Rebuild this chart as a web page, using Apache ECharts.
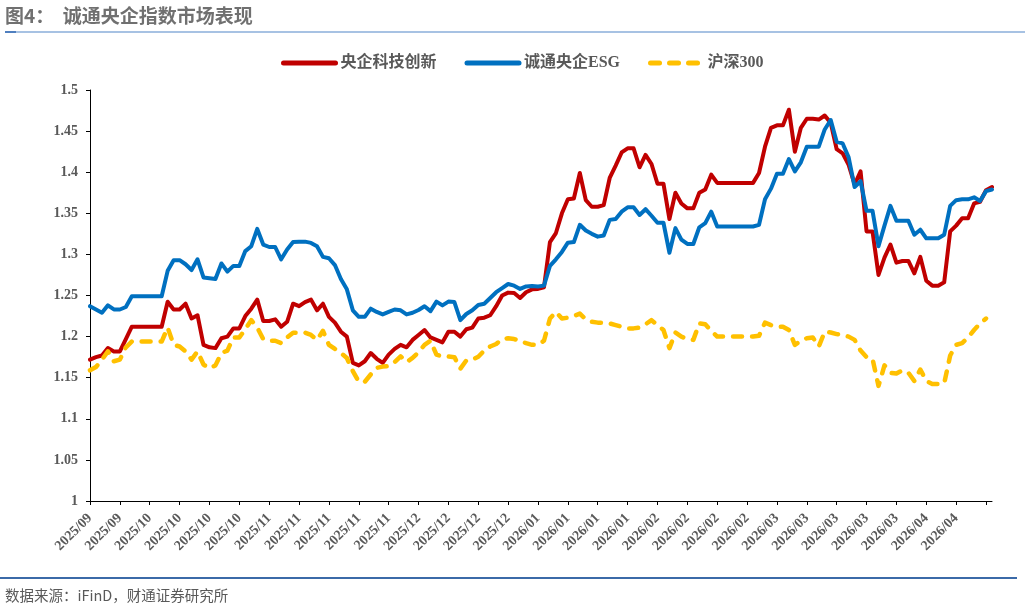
<!DOCTYPE html>
<html>
<head>
<meta charset="utf-8">
<script src="https://cdn.jsdelivr.net/npm/echarts@6/dist/echarts.min.js"></script>
<style>
  html, body { margin: 0; padding: 0; background: #fff; }
  #chart { width: 1032px; height: 609px; }
</style>
</head>
<body>
<div id="chart"></div>
<script>
// tick labels, one every 5 trading days
var tickLabels = [
    '2025/09', '2025/09', '2025/10', '2025/10', '2025/10', '2025/10',
    '2025/11', '2025/11', '2025/11', '2025/11', '2025/11',
    '2025/12', '2025/12', '2025/12', '2025/12',
    '2026/01', '2026/01', '2026/01', '2026/01',
    '2026/02', '2026/02', '2026/02', '2026/02',
    '2026/03', '2026/03', '2026/03', '2026/03', '2026/03',
    '2026/04', '2026/04'
];

// 央企科技创新
var techData = [
    1.172, 1.175, 1.177, 1.186, 1.182, 1.182, 1.197, 1.212, 1.212, 1.212,
    1.212, 1.212, 1.212, 1.2425, 1.233, 1.233, 1.240, 1.222, 1.226, 1.190,
    1.187, 1.186, 1.198, 1.200, 1.210, 1.210, 1.225, 1.234, 1.245, 1.219,
    1.219, 1.221, 1.212, 1.218, 1.240, 1.237, 1.242, 1.245, 1.232, 1.240,
    1.224, 1.217, 1.206, 1.200, 1.168, 1.165, 1.170, 1.180, 1.173, 1.168,
    1.178, 1.185, 1.190, 1.187, 1.196, 1.202, 1.208, 1.199, 1.196, 1.193,
    1.206, 1.206, 1.200, 1.209, 1.211, 1.222, 1.223, 1.226, 1.237, 1.250,
    1.2535, 1.253, 1.247, 1.254, 1.2575, 1.258, 1.260, 1.315, 1.326, 1.350,
    1.367, 1.368, 1.399, 1.366, 1.358, 1.358, 1.360, 1.393, 1.408, 1.424,
    1.429, 1.429, 1.406, 1.421, 1.410, 1.386, 1.386, 1.343, 1.375, 1.362,
    1.356, 1.356, 1.375, 1.379, 1.397, 1.387, 1.387, 1.387, 1.387, 1.387,
    1.387, 1.387, 1.399, 1.431, 1.454, 1.457, 1.457, 1.476, 1.425, 1.454,
    1.465, 1.465, 1.464, 1.469, 1.460, 1.428, 1.423, 1.409, 1.385, 1.401,
    1.328, 1.328, 1.275, 1.296, 1.312, 1.290, 1.292, 1.292, 1.277, 1.297,
    1.268, 1.262, 1.262, 1.266, 1.328, 1.335, 1.344, 1.344, 1.362, 1.364,
    1.378, 1.382
];

// 诚通央企ESG
var esgData = [
    1.237, 1.233, 1.229, 1.238, 1.233, 1.233, 1.236, 1.249, 1.249, 1.249,
    1.249, 1.249, 1.249, 1.280, 1.293, 1.293, 1.288, 1.281, 1.294, 1.272,
    1.271, 1.270, 1.289, 1.279, 1.286, 1.286, 1.304, 1.310, 1.331, 1.312,
    1.309, 1.309, 1.294, 1.306, 1.315, 1.3155, 1.3155, 1.314, 1.310, 1.297,
    1.2953, 1.287, 1.270, 1.2575, 1.232, 1.224, 1.224, 1.234, 1.230, 1.227,
    1.230, 1.233, 1.232, 1.227, 1.229, 1.2324, 1.237, 1.231, 1.2426, 1.238,
    1.2426, 1.242, 1.220, 1.2275, 1.232, 1.2385, 1.240, 1.247, 1.254, 1.259,
    1.264, 1.262, 1.258, 1.261, 1.2616, 1.261, 1.262, 1.286, 1.294, 1.303,
    1.3143, 1.315, 1.336, 1.329, 1.325, 1.3216, 1.323, 1.342, 1.343, 1.352,
    1.3573, 1.3573, 1.348, 1.355, 1.347, 1.3385, 1.3385, 1.302, 1.332, 1.318,
    1.3127, 1.3127, 1.333, 1.338, 1.352, 1.334, 1.334, 1.334, 1.334, 1.334,
    1.334, 1.334, 1.336, 1.367, 1.380, 1.398, 1.398, 1.416, 1.401, 1.412,
    1.431, 1.431, 1.431, 1.452, 1.4635, 1.437, 1.435, 1.418, 1.382, 1.389,
    1.353, 1.353, 1.310, 1.335, 1.359, 1.341, 1.341, 1.341, 1.324, 1.330,
    1.3196, 1.3196, 1.3196, 1.324, 1.359, 1.366, 1.367, 1.367, 1.3695, 1.365,
    1.377, 1.379
];

// 沪深300
var hs300Data = [
    1.159, 1.163, 1.172, 1.182, 1.170, 1.172, 1.187, 1.194, 1.194, 1.194,
    1.194, 1.194, 1.194, 1.211, 1.190, 1.188, 1.182, 1.172, 1.182, 1.166,
    1.1615, 1.165, 1.180, 1.183, 1.199, 1.199, 1.209, 1.220, 1.211, 1.197,
    1.195, 1.195, 1.192, 1.199, 1.2048, 1.2048, 1.2048, 1.202, 1.196, 1.207,
    1.190, 1.185, 1.180, 1.174, 1.158, 1.145, 1.145, 1.154, 1.162, 1.1635,
    1.164, 1.169, 1.176, 1.169, 1.174, 1.181, 1.190, 1.195, 1.178, 1.1757,
    1.1757, 1.175, 1.161, 1.171, 1.172, 1.1755, 1.183, 1.188, 1.191, 1.197,
    1.198, 1.197, 1.195, 1.192, 1.190, 1.190, 1.195, 1.222, 1.230, 1.222,
    1.223, 1.225, 1.228, 1.221, 1.218, 1.217, 1.217, 1.216, 1.214, 1.212,
    1.210, 1.210, 1.211, 1.215, 1.220, 1.214, 1.208, 1.186, 1.205, 1.200,
    1.197, 1.196, 1.216, 1.215, 1.207, 1.200, 1.200, 1.200, 1.200, 1.200,
    1.200, 1.200, 1.201, 1.217, 1.214, 1.212, 1.212, 1.208, 1.190, 1.195,
    1.198, 1.199, 1.188, 1.206, 1.205, 1.203, 1.202, 1.200, 1.196, 1.183,
    1.175, 1.173, 1.140, 1.165, 1.156, 1.155, 1.159, 1.156, 1.146, 1.160,
    1.146, 1.1423, 1.1423, 1.143, 1.177, 1.190, 1.192, 1.199, 1.208, 1.216,
    1.222, null
];

var days = techData.map(function(v, i) { return i; });

var chart = echarts.init(document.getElementById('chart'), null, { renderer: 'canvas' });

var labelFont = {
    fontFamily: '"Liberation Serif", "Times New Roman", serif',
    fontWeight: 'bold',
    color: '#595959'
};

var option = {
    animation: false,
    backgroundColor: '#fff',
    graphic: [
        {
            type: 'text', left: 5, top: 6,
            style: {
                text: '图4：  诚通央企指数市场表现',
                font: 'bold 19px "Noto Sans CJK SC", sans-serif',
                fill: '#707070'
            }
        },
        { type: 'rect', shape: { x: 5, y: 31, width: 1020, height: 2 }, style: { fill: '#a7c2e3' } },
        { type: 'rect', shape: { x: 5, y: 31, width: 11, height: 2 }, style: { fill: '#4f7fbf' } },
        { type: 'rect', shape: { x: 0, y: 577, width: 1017, height: 2 }, style: { fill: '#3b6aa8' } },
        {
            type: 'text', left: 5, top: 588,
            style: {
                text: '数据来源：iFinD，财通证券研究所',
                font: '14.5px "Noto Sans CJK SC", sans-serif',
                fill: '#595959'
            }
        }
    ],
    legend: {
        left: 276,
        top: 50,
        itemWidth: 52,
        itemHeight: 14,
        itemGap: 28,
        itemStyle: { opacity: 0 },
        lineStyle: { width: 5 },
        textStyle: {
            fontSize: 16,
            fontFamily: '"Liberation Serif", "Noto Sans CJK SC", serif',
            fontWeight: 'bold',
            color: '#595959'
        },
        data: ['央企科技创新', '诚通央企ESG', '沪深300']
    },
    grid: {
        left: 90,
        right: 40,
        top: 90,
        bottom: 108,
        containLabel: false
    },
    xAxis: {
        type: 'category',
        boundaryGap: false,
        data: days,
        axisLine: { lineStyle: { color: '#000', width: 1 } },
        axisTick: { interval: 4, length: 4, lineStyle: { color: '#000' } },
        axisLabel: Object.assign({
            interval: 4,
            rotate: 45,
            fontSize: 14,
            margin: 15,
            formatter: function(value, idx) {
                return tickLabels[idx / 5] || '';
            }
        }, labelFont),
        splitLine: { show: false }
    },
    yAxis: {
        type: 'value',
        min: 1,
        max: 1.5,
        interval: 0.05,
        axisLine: { show: true, lineStyle: { color: '#000', width: 1 } },
        axisTick: { show: true, length: 4, lineStyle: { color: '#000' } },
        axisLabel: Object.assign({ fontSize: 14, margin: 12 }, labelFont),
        splitLine: { show: false }
    },
    series: [
        {
            name: '央企科技创新',
            type: 'line',
            data: techData,
            symbol: 'none',
            color: '#c00000',
            lineStyle: { width: 4, color: '#c00000', join: 'round', cap: 'round' }
        },
        {
            name: '诚通央企ESG',
            type: 'line',
            data: esgData,
            symbol: 'none',
            color: '#0070c0',
            lineStyle: { width: 4, color: '#0070c0', join: 'round', cap: 'round' }
        },
        {
            name: '沪深300',
            type: 'line',
            data: hs300Data,
            symbol: 'none',
            color: '#ffc000',
            lineStyle: { width: 4.5, color: '#ffc000', type: [9, 10], cap: 'round', join: 'round' }
        }
    ]
};

chart.setOption(option);
</script>
</body>
</html>
